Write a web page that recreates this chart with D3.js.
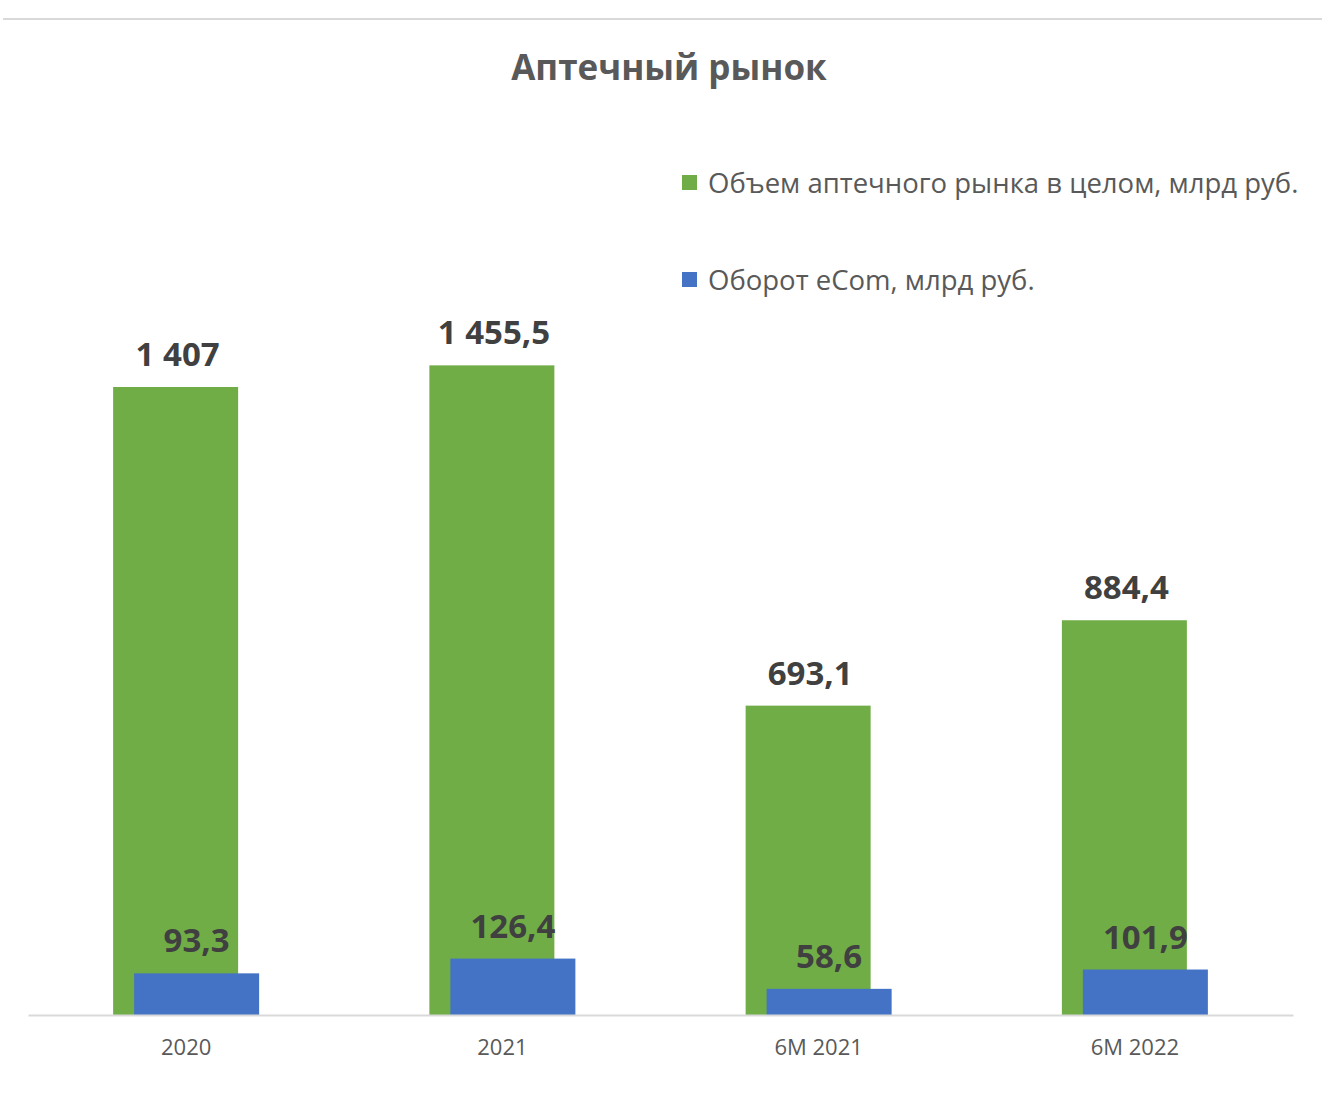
<!DOCTYPE html>
<html>
<head>
<meta charset="utf-8">
<script src="https://cdn.jsdelivr.net/npm/d3@7"></script>
<style>
  html, body { margin: 0; padding: 0; background: #ffffff; }
  svg { display: block; }
</style>
</head>
<body>
<svg id="chart" width="1322" height="1104"></svg>
<script>
const title = "Аптечный рынок";
const categories = ["2020", "2021", "6M 2021", "6M 2022"];
const marketValues = [1407, 1455.5, 693.1, 884.4];
const marketLabels = ["1 407", "1 455,5", "693,1", "884,4"];
const ecomValues = [93.3, 126.4, 58.6, 101.9];
const ecomLabels = ["93,3", "126,4", "58,6", "101,9"];
const seriesNames = ["Объем аптечного рынка в целом, млрд руб.", "Оборот eCom, млрд руб."];
const seriesColors = ["#70ad47", "#4472c4"];

const svg = d3.select("#chart");
const font = "'Open Sans', 'DejaVu Sans', sans-serif";
const textColor = "#595959";

// top border line
svg.append("line").attr("x1", 3).attr("x2", 1322).attr("y1", 19).attr("y2", 19)
  .attr("stroke", "#d9d9d9").attr("stroke-width", 2);

svg.append("text").attr("x", 669).attr("y", 80).attr("text-anchor", "middle")
  .attr("font-family", font).attr("font-weight", "bold").attr("font-size", 35)
  .attr("fill", textColor).text(title);

const plotLeft = 28, plotRight = 1293, baseline = 1015;
const x = d3.scaleBand().domain(categories).range([plotLeft, plotRight]).padding(0);
const y = d3.scaleLinear().domain([0, 1407]).range([baseline, 387]);

const barW = 125, offset = 10.5;

const g = svg.append("g");

// green bars
g.selectAll(".gbar").data(categories).enter().append("rect")
  .attr("x", (d) => x(d) + x.bandwidth() / 2 - offset - barW / 2)
  .attr("width", barW)
  .attr("y", (d, i) => y(marketValues[i]))
  .attr("height", (d, i) => baseline - y(marketValues[i]))
  .attr("fill", seriesColors[0]);

// blue bars
g.selectAll(".bbar").data(categories).enter().append("rect")
  .attr("x", (d) => x(d) + x.bandwidth() / 2 + offset - barW / 2)
  .attr("width", barW)
  .attr("y", (d, i) => y(ecomValues[i]))
  .attr("height", (d, i) => baseline - y(ecomValues[i]))
  .attr("fill", seriesColors[1]);

// labels
g.selectAll(".glab").data(categories).enter().append("text")
  .attr("x", (d) => x(d) + x.bandwidth() / 2 - offset + 2)
  .attr("y", (d, i) => y(marketValues[i]) - 21)
  .attr("text-anchor", "middle").attr("font-family", font).attr("font-weight", "bold")
  .attr("font-size", 33).attr("fill", "#404040")
  .text((d, i) => marketLabels[i]);

g.selectAll(".blab").data(categories).enter().append("text")
  .attr("x", (d) => x(d) + x.bandwidth() / 2 + offset)
  .attr("y", (d, i) => y(ecomValues[i]) - 21)
  .attr("text-anchor", "middle").attr("font-family", font).attr("font-weight", "bold")
  .attr("font-size", 33).attr("fill", "#404040")
  .text((d, i) => ecomLabels[i]);

// axis
const axis = d3.axisBottom(x).tickSize(0).tickPadding(0);
const ax = svg.append("g").attr("transform", `translate(0,${baseline})`).call(axis);
ax.select(".domain").attr("stroke", "#d9d9d9").attr("stroke-width", 2);
ax.selectAll("text").attr("font-family", font).attr("font-size", 22)
  .attr("fill", textColor).attr("dy", 0).attr("y", 40);

// legend
const leg = svg.append("g");
const legY = [183, 280];
seriesNames.forEach((name, i) => {
  leg.append("rect").attr("x", 682).attr("y", legY[i] - 8).attr("width", 15).attr("height", 15)
    .attr("fill", seriesColors[i]);
  leg.append("text").attr("x", 708).attr("y", legY[i] + 10)
    .attr("font-family", font).attr("font-size", 27.5).attr("fill", textColor).text(name);
});
</script>
</body>
</html>
